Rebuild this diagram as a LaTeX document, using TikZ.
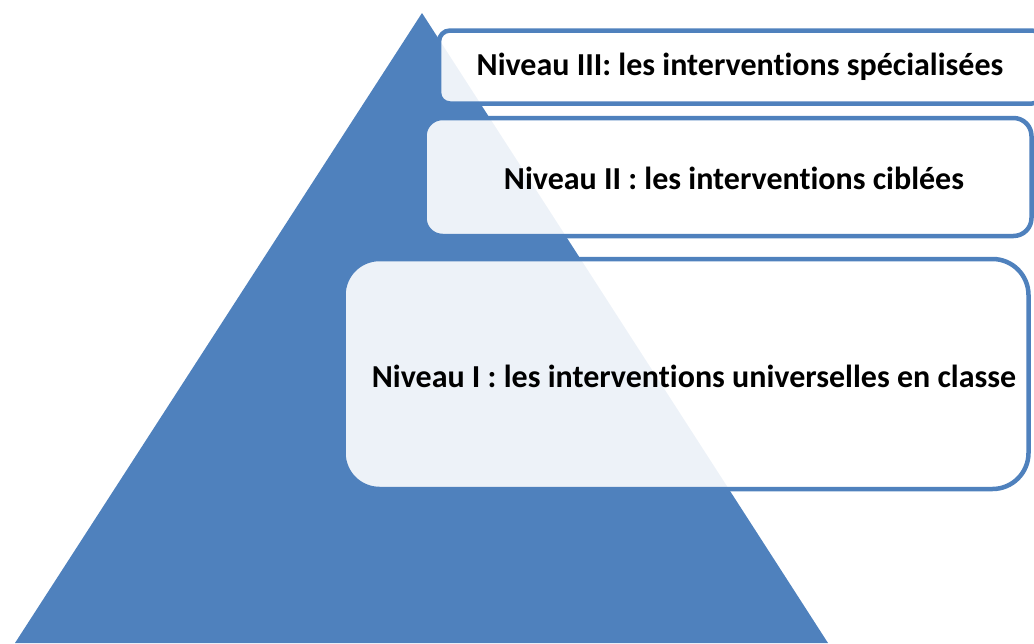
\documentclass[tikz,border=0pt]{standalone}
\usepackage{fontspec}
\setmainfont{Carlito}[RawFeature={-liga}]
\definecolor{pyrblue}{HTML}{4F81BD}

\tikzset{
  levelbox/.style={draw=pyrblue, line width=4.5pt, fill=white, fill opacity=0.9, inner sep=0pt},
  leveltext/.style={font=\bfseries\fontsize{32}{36}\selectfont, inner sep=0pt},
}

\begin{document}
\begin{tikzpicture}[x=1pt,y=-1pt]
  \useasboundingbox (0,0) rectangle (1034,643);
  \clip (0,0) rectangle (1034,643);

  % pyramid
  \coordinate (top) at (422,13);
  \coordinate (bl) at (15,643);
  \coordinate (br) at (828,643);
  \fill[pyrblue] (top) -- (bl) -- (br) -- cycle;

  % levels
  \node[levelbox, rounded corners=11pt, minimum width=604pt, minimum height=73pt] (n3) at (741,67) {};
  \node[levelbox, rounded corners=18pt, minimum width=607pt, minimum height=118pt] (n2) at (728,177) {};
  \node[levelbox, rounded corners=36pt, minimum width=685pt, minimum height=230pt] (n1) at (686,374) {};

  \node[leveltext] (t3) at (740,67) {Niveau III: les interventions spécialisées};
  \node[leveltext] (t2) at (734,178) {Niveau II : les interventions ciblées};
  \node[leveltext] (t1) at (694,376) {Niveau I : les interventions universelles en classe};
\end{tikzpicture}
\end{document}
